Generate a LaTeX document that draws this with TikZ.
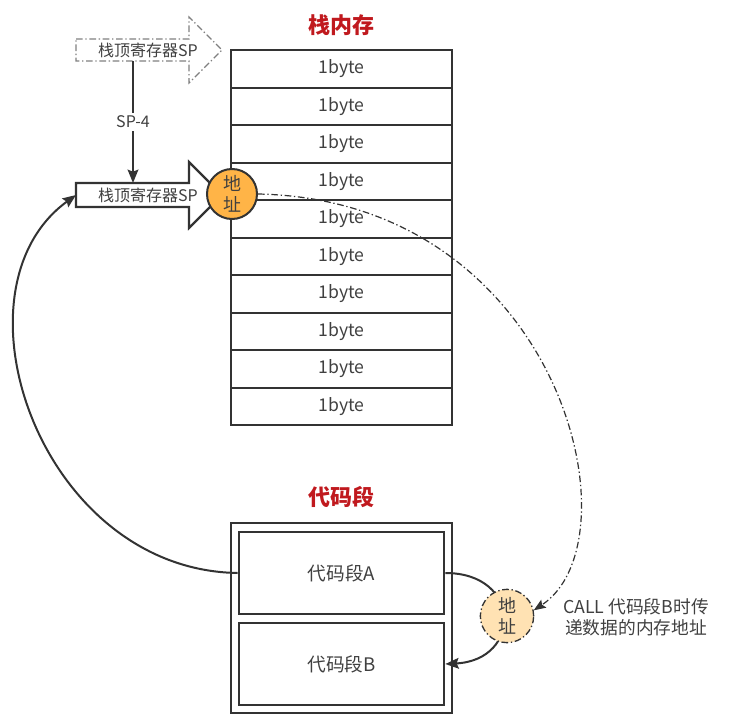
\documentclass[tikz,border=0pt]{standalone}
\usepackage{fontspec}
\setmainfont{Noto Sans CJK SC}
\usetikzlibrary{arrows.meta,positioning,calc}

\definecolor{linegray}{HTML}{333333}
\definecolor{textgray}{HTML}{404040}
\definecolor{titlered}{HTML}{C0191E}
\definecolor{addrorange}{HTML}{FFB447}
\definecolor{addrpeach}{HTML}{FFE2B3}

\tikzset{
	cell/.style={draw=linegray, line width=1.8pt, minimum width=165.75pt, minimum height=28.1pt,
		inner sep=0pt, text=textgray, font=\fontsize{13.2}{15}\selectfont},
	segtitle/.style={text=titlered, font=\fontsize{16.5}{18}\selectfont\bfseries},
	sptext/.style={text=textgray, font=\fontsize{12}{14}\selectfont, inner sep=1pt},
	spold/.style={draw=gray, line width=0.9pt, dash pattern=on 5pt off 2pt on 1pt off 2pt},
	spnew/.style={draw=linegray, line width=1.6pt, fill=white},
	conn/.style={draw=linegray, line width=1.5pt, -{Stealth[length=10pt,width=8pt,inset=1.5pt]}},
	steplabel/.style={fill=white, text=textgray, font=\fontsize{12}{14}\selectfont, inner sep=2pt},
	addr/.style={circle, draw=linegray, line width=1.5pt, fill=addrorange, minimum size=37.5pt,
		inner sep=0pt, align=center, text=textgray, font=\fontsize{13.5}{16}\selectfont},
	codebox/.style={draw=linegray, line width=1.8pt, inner sep=0pt},
	codepart/.style={draw=linegray, line width=2pt, minimum width=153.75pt, minimum height=61.5pt,
		inner sep=0pt, text=textgray, font=\fontsize{14}{16}\selectfont},
	note/.style={align=center, text=textgray, font=\fontsize{13.3}{15.5}\selectfont}
}

\begin{document}
\begin{tikzpicture}[x=0.75pt,y=-0.75pt]
	\useasboundingbox (0,0) rectangle (729,728);
	
	% stack memory
	\node[segtitle] (stacktitle) at (341,25) {栈内存};
	\foreach \i in {0,...,9}
		\node[cell] (cell\i) at (341.5,{69+37.5*\i}) {1byte};
	
	% stack pointer, before and after
	\draw[spold] (76,39) -- (189,39) -- (189,17) -- (222,50) -- (189,83) -- (189,61) -- (76,61) -- cycle;
	\node[sptext] (spoldtext) at (148,50) {栈顶寄存器SP};
	\draw[spnew] (76,183) -- (189,183) -- (189,162) -- (222,195) -- (189,228) -- (189,207) -- (76,207) -- cycle;
	\node[sptext] (spnewtext) at (148,195) {栈顶寄存器SP};
	\coordinate (spoldbottom) at (133,61);
	\coordinate (spnewtop) at (133,183);
	\coordinate (spnewtail) at (76,195);
	\draw[conn] (spoldbottom) -- node[steplabel] {SP-4} (spnewtop);
	
	% address on the stack
	\node[addr] (addr1) at (232,194) {地\\址};
	
	% code segment
	\node[segtitle] (codetitle) at (341,497) {代码段};
	\node[codebox, minimum width=165.75pt, minimum height=142.5pt] (codeseg) at (341.5,618) {};
	\node[codepart] (segA) at (341.5,573) {代码段A};
	\node[codepart] (segB) at (341.5,664) {代码段B};
	
	% return to the stack pointer
	\draw[conn] (segA.west) .. controls (40,570) and (-55,290) .. (spnewtail);
	
	% call with the address
	\draw[conn] (segA.east) .. controls (522,573) and (522,660) .. (segB.east);
	\node[addr, fill=addrpeach, line width=1pt, dash pattern=on 5pt off 2pt on 1pt off 2pt,
		minimum size=40pt] (addr2) at (507,616) {地\\址};
	\draw[linegray, line width=0.9pt, dash pattern=on 5pt off 2pt on 1pt off 2pt,
		-{Stealth[length=9pt,width=7pt,inset=1.5pt]}]
		(addr1.east) .. controls (560,200) and (640,540) .. (addr2.12);
	\node[note] (callnote) at (636,617) {CALL 代码段B时传\\递数据的内存地址};
\end{tikzpicture}
\end{document}
